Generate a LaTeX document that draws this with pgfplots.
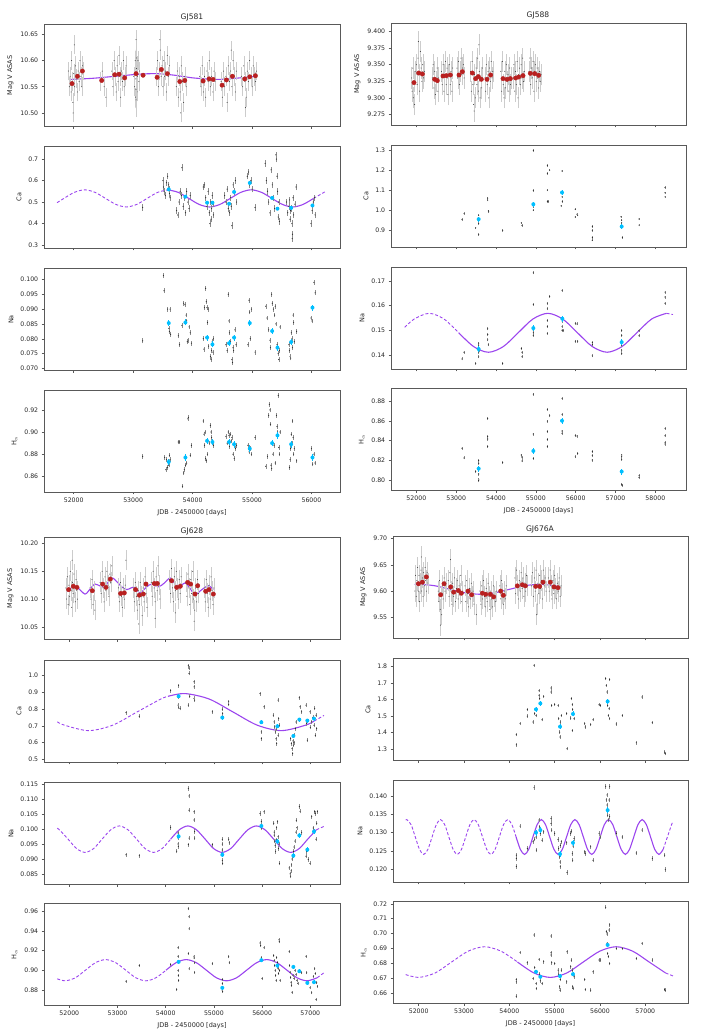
\documentclass[border=0pt]{standalone}
\usepackage{fontspec}
\setmainfont{DejaVu Sans}
\usepackage{pgfplots}
\pgfplotsset{compat=1.18}
\definecolor{fitPurple}{HTML}{9B45EE}
\definecolor{binCyan}{HTML}{00BFFF}
\definecolor{binRed}{HTML}{B82020}

% observation: error bar + small dark dot; mark size = half error bar length
\pgfdeclareplotmark{ebarL}{%
  \pgfsetstrokecolor{black!20}\pgfsetlinewidth{0.4pt}%
  \pgfpathmoveto{\pgfqpoint{0pt}{-\pgfplotmarksize}}%
  \pgfpathlineto{\pgfqpoint{0pt}{\pgfplotmarksize}}%
  \pgfusepathqstroke
  \pgfsetfillcolor{black!80}%
  \pgfpathcircle{\pgfpointorigin}{0.5pt}%
  \pgfusepathqfill}
\pgfdeclareplotmark{ebarD}{%
  \pgfsetstrokecolor{black!45}\pgfsetlinewidth{0.4pt}%
  \pgfpathmoveto{\pgfqpoint{0pt}{-\pgfplotmarksize}}%
  \pgfpathlineto{\pgfqpoint{0pt}{\pgfplotmarksize}}%
  \pgfusepathqstroke
  \pgfsetfillcolor{black!85}%
  \pgfpathcircle{\pgfpointorigin}{0.6pt}%
  \pgfusepathqfill}
% binned mean: cyan bar + dot
\pgfdeclareplotmark{cbar}{%
  \pgfsetstrokecolor{binCyan}\pgfsetlinewidth{0.7pt}%
  \pgfpathmoveto{\pgfqpoint{0pt}{-\pgfplotmarksize}}%
  \pgfpathlineto{\pgfqpoint{0pt}{\pgfplotmarksize}}%
  \pgfusepathqstroke
  \pgfsetfillcolor{binCyan}%
  \pgfpathcircle{\pgfpointorigin}{2pt}%
  \pgfusepathqfill}

\pgfplotsset{
  panel/.style={scale only axis, anchor=north west, height=102pt,
    axis line style={black!65, line width=0.5pt},
    tick align=outside, tick pos=left, major tick length=2.3pt,
    tick style={black!65, line width=0.5pt},
    tick label style={font=\fontsize{6.2}{7}\selectfont, text=black!85},
    label style={font=\fontsize{6.5}{8}\selectfont, text=black!85},
    /pgf/number format/assume math mode=true,
    scaled ticks=false, clip=true,
    x tick label style={/pgf/number format/1000 sep={}}},
  colA/.style={xmin=51500, xmax=56480, width=296pt, xtick={52000,53000,...,56000}},
  colB/.style={xmin=51364, xmax=58770, width=295pt, xtick={52000,53000,...,58000}},
  colC/.style={xmin=51475, xmax=57616, width=296pt, xtick={52000,53000,...,57000}},
  colD/.style={xmin=51433, xmax=57942, width=295pt, xtick={52000,53000,...,57000}},
  nox/.style={xticklabels={}},
  botx/.style={xlabel={JDB - 2450000 [days]}},
  yprec/.style={yticklabel style={/pgf/number format/.cd, fixed, fixed zerofill, precision=#1}},
  obsL/.style={only marks, mark=ebarL, mark size=#1},
  obs/.style={only marks, mark=ebarD, mark size=#1},
  bin/.style={only marks, mark=cbar, mark size=#1},
  mag/.style={only marks, mark=*, mark size=2.2pt, color=binRed},
  fitS/.style={smooth, no marks, color=fitPurple, line width=1.1pt},
  fitD/.style={smooth, no marks, color=fitPurple, line width=0.9pt, dash pattern=on 3pt off 2pt},
}

\begin{document}
\begin{tikzpicture}
\path (0,0) rectangle (706pt,-1035pt);
\node[font=\fontsize{7.6}{9}\selectfont, text=black!85] at (192pt,-17pt) {GJ581};
\node[font=\fontsize{7.6}{9}\selectfont, text=black!85] at (538pt,-15pt) {GJ588};
\node[font=\fontsize{7.6}{9}\selectfont, text=black!85] at (192pt,-531pt) {GJ628};
\node[font=\fontsize{7.6}{9}\selectfont, text=black!85] at (540pt,-529pt) {GJ676A};

%% ---------------- GJ581 ----------------
\begin{axis}[panel, colA, nox, at={(44pt,-24.5pt)}, ymin=10.474, ymax=10.669,
  ytick={10.50,10.55,10.60,10.65}, yprec=2, ylabel={Mag V ASAS}]
\addplot[obsL=9.4pt] coordinates {
(51910,10.58)(51925,10.55)(51940,10.57)(51955,10.54)(51965,10.60)(51975,10.56)(51985,10.52)(52000,10.575)(52015,10.55)(52030,10.59)(52045,10.565)(52060,10.54)(52075,10.58)(52090,10.56)(52105,10.60)(52120,10.57)(52135,10.55)(52150,10.59)(52160,10.58)(51990,10.50)(52010,10.63)
(52450,10.56)(52480,10.58)(52510,10.55)(52540,10.53)
(52640,10.58)(52660,10.55)(52680,10.60)(52700,10.57)(52715,10.54)(52730,10.59)(52745,10.56)(52760,10.61)(52775,10.57)(52790,10.53)(52805,10.58)(52820,10.56)(52835,10.60)(52850,10.55)(52865,10.57)(52880,10.59)
(53010,10.57)(53025,10.55)(53035,10.60)(53040,10.53)(53045,10.58)(53050,10.51)(53052,10.62)(53055,10.56)(53060,10.59)(53065,10.54)(53070,10.57)(53080,10.60)(53095,10.56)(53110,10.58)(53048,10.64)(53050,10.575)(53045,10.565)(53058,10.585)(53047,10.545)(53053,10.605)(53049,10.525)
(53390,10.57)(53410,10.60)(53425,10.55)(53440,10.58)(53455,10.62)(53470,10.57)(53485,10.59)(53500,10.55)(53515,10.60)(53530,10.57)(53545,10.58)(53560,10.54)(53575,10.61)(53590,10.57)(53610,10.59)(53450,10.64)
(53725,10.55)(53745,10.58)(53760,10.53)(53775,10.57)(53790,10.54)(53810,10.59)(53830,10.56)(53850,10.52)(53870,10.57)(53890,10.55)(53800,10.50)
(54120,10.57)(54140,10.55)(54160,10.59)(54180,10.54)(54200,10.57)(54220,10.53)(54240,10.58)(54260,10.56)(54280,10.60)(54300,10.55)(54320,10.57)(54340,10.54)(54360,10.58)(54375,10.56)
(54480,10.56)(54500,10.53)(54520,10.58)(54540,10.55)(54560,10.57)(54580,10.52)(54600,10.59)(54620,10.56)(54640,10.58)(54660,10.55)(54680,10.60)(54700,10.57)(54720,10.54)(54735,10.58)(54650,10.62)
(54820,10.57)(54840,10.55)(54860,10.59)(54880,10.56)(54900,10.53)(54920,10.58)(54940,10.56)(54960,10.60)(54980,10.57)(55000,10.55)(55020,10.59)(55040,10.57)(55060,10.56)(55075,10.58)(54890,10.51)
};
\addplot[fitS] coordinates {(51920,10.564)(52300,10.566)(52700,10.570)(53100,10.574)(53400,10.575)(53700,10.572)(54000,10.567)(54400,10.564)(54700,10.566)(55075,10.570)};
\addplot[mag] coordinates {
(51972,10.556)(52062,10.570)(52146,10.580)(52471,10.562)(52690,10.573)(52763,10.574)(52858,10.567)(53049,10.575)(53167,10.572)(53403,10.568)(53475,10.583)(53576,10.575)(53784,10.560)(53868,10.562)(54177,10.561)(54278,10.565)(54345,10.564)(54496,10.553)(54569,10.563)(54670,10.570)(54878,10.565)(54962,10.569)(55057,10.571)};
\end{axis}

\begin{axis}[panel, colA, nox, at={(44pt,-146pt)}, ymin=0.286, ymax=0.761,
  ytick={0.3,0.4,0.5,0.6,0.7}, yprec=1, ylabel={Ca}]
\addplot[obs=3.2pt] coordinates {
(53160,0.475)
(53500,0.60)(53510,0.57)(53520,0.55)(53540,0.53)(53560,0.59)(53580,0.62)(53600,0.56)(53610,0.54)(53620,0.52)(53595,0.58)
(53730,0.46)(53750,0.44)(53770,0.50)(53790,0.55)(53810,0.53)(53820,0.66)(53840,0.48)(53860,0.52)(53880,0.45)(53900,0.55)(53920,0.50)(53940,0.47)(53960,0.53)
(54180,0.57)(54200,0.58)(54220,0.52)(54240,0.48)(54260,0.55)(54280,0.45)(54300,0.50)(54310,0.42)(54320,0.47)(54330,0.53)(54340,0.49)(54350,0.44)(54290,0.40)
(54540,0.53)(54560,0.50)(54580,0.56)(54600,0.47)(54620,0.45)(54640,0.52)(54660,0.39)(54680,0.58)(54700,0.55)(54720,0.60)(54740,0.50)(54650,0.48)
(54920,0.62)(54940,0.64)(54960,0.58)(54980,0.60)(55000,0.56)(55050,0.475)
(55220,0.68)(55240,0.60)(55260,0.55)(55280,0.50)(55300,0.45)(55320,0.65)(55340,0.58)(55360,0.52)(55380,0.47)(55400,0.72)(55410,0.70)(55420,0.62)(55430,0.55)(55440,0.43)(55450,0.50)(55460,0.41)
(55580,0.50)(55600,0.45)(55620,0.48)(55640,0.42)(55660,0.47)(55670,0.40)(55680,0.35)(55690,0.52)(55700,0.44)(55720,0.49)(55740,0.57)(55650,0.46)(55630,0.51)(55675,0.33)
(55990,0.40)(56010,0.46)(56030,0.50)(56050,0.52)(56060,0.44)
};
\addplot[fitD] coordinates {(51720,0.497)(51835,0.517)(52010,0.545)(52185,0.557)(52360,0.545)(52535,0.517)(52710,0.489)(52885,0.477)(53060,0.489)(53235,0.517)(53410,0.545)(53585,0.557)};
\addplot[fitS] coordinates {(53585,0.557)(53760,0.545)(53935,0.517)(54110,0.489)(54285,0.477)(54460,0.489)(54635,0.517)(54810,0.545)(54985,0.557)(55160,0.545)(55335,0.517)(55510,0.489)(55685,0.477)(55860,0.489)(56035,0.517)};
\addplot[fitD] coordinates {(56035,0.517)(56210,0.545)(56241,0.549)};
\addplot[bin=1.7pt] coordinates {(53599,0.559)(53879,0.525)(54244,0.497)(54334,0.497)(54614,0.492)(54698,0.547)(54962,0.589)(55338,0.519)(55428,0.469)(55658,0.473)(56017,0.484)};
\end{axis}

\begin{axis}[panel, colA, nox, at={(44pt,-268.5pt)}, ymin=0.0693, ymax=0.1037,
  ytick={0.070,0.075,...,0.1005}, yprec=3, ylabel={Na}]
\addplot[obs=2.4pt] coordinates {
(53160,0.0793)
(53510,0.1013)(53520,0.0962)(53580,0.0900)(53600,0.0835)(53610,0.0825)(53620,0.0900)(53630,0.0815)
(53760,0.0810)(53780,0.0780)(53820,0.0845)(53850,0.0920)(53870,0.0915)(53890,0.0880)(53900,0.0860)(53920,0.0795)(53940,0.0840)(53960,0.0820)(53980,0.0785)(53910,0.0790)
(54180,0.0800)(54190,0.0765)(54200,0.0905)(54220,0.0970)(54230,0.0925)(54240,0.0905)(54250,0.0855)(54270,0.0775)(54300,0.0740)(54310,0.0730)(54320,0.0760)(54330,0.0790)(54340,0.0755)(54350,0.0800)(54260,0.0900)
(54560,0.0780)(54580,0.0760)(54600,0.0950)(54610,0.0860)(54620,0.0820)(54640,0.0790)(54660,0.0730)(54670,0.0720)(54690,0.0760)(54700,0.0800)(54710,0.0830)(54730,0.0780)(54680,0.0770)
(54930,0.0780)(54950,0.0930)(54960,0.0890)(54970,0.0800)(54990,0.0900)(55050,0.0755)
(55230,0.0910)(55250,0.0870)(55280,0.0830)(55300,0.0795)(55310,0.0770)(55330,0.0950)(55340,0.0920)(55360,0.0900)(55380,0.0880)(55400,0.0850)(55420,0.0780)(55440,0.0750)(55450,0.0730)(55460,0.0760)(55470,0.0840)(55390,0.0910)
(55620,0.0780)(55630,0.0760)(55640,0.0740)(55660,0.0820)(55670,0.0800)(55680,0.0770)(55690,0.0880)(55700,0.0855)(55710,0.0790)(55750,0.0825)(55650,0.0735)
(55990,0.0870)(56010,0.0860)(56040,0.0990)(56060,0.0955)
};
\addplot[bin=3pt] coordinates {(53599,0.0853)(53879,0.0855)(54244,0.0804)(54334,0.0781)(54614,0.0785)(54698,0.0804)(54962,0.0853)(55338,0.0826)(55428,0.0770)(55658,0.0789)(56017,0.0905)};
\end{axis}

\begin{axis}[panel, colA, botx, at={(44pt,-390pt)}, ymin=0.8458, ymax=0.938,
  ytick={0.86,0.88,0.90,0.92}, yprec=2, ylabel={H$_\alpha$}]
\addplot[obs=2.2pt] coordinates {
(53160,0.878)
(53530,0.877)(53560,0.875)(53580,0.868)(53600,0.870)(53620,0.875)(53550,0.866)(53610,0.879)
(53760,0.891)(53780,0.891)(53830,0.851)(53860,0.866)(53880,0.870)(53900,0.872)(53920,0.912)(53930,0.913)(53960,0.879)(53980,0.888)(53850,0.863)
(54180,0.910)(54190,0.898)(54200,0.888)(54220,0.876)(54230,0.874)(54250,0.880)(54280,0.890)(54300,0.906)(54310,0.900)(54320,0.895)(54340,0.890)(54350,0.888)(54210,0.900)
(54560,0.896)(54580,0.890)(54600,0.900)(54620,0.887)(54640,0.898)(54660,0.895)(54680,0.880)(54700,0.876)(54720,0.885)(54740,0.888)(54650,0.892)(54610,0.897)
(54930,0.888)(54950,0.882)(54970,0.885)(54990,0.880)(55050,0.895)
(55230,0.869)(55260,0.878)(55280,0.915)(55290,0.925)(55300,0.920)(55310,0.907)(55320,0.870)(55330,0.867)(55350,0.880)(55370,0.888)(55390,0.872)(55410,0.915)(55420,0.905)(55430,0.900)(55440,0.933)(55450,0.886)(55460,0.880)(55470,0.900)
(55630,0.868)(55640,0.875)(55650,0.885)(55660,0.898)(55670,0.890)(55680,0.910)(55690,0.895)(55700,0.880)(55710,0.885)(55750,0.874)
(56000,0.885)(56020,0.871)(56040,0.880)(56060,0.872)
};
\addplot[bin=3.3pt] coordinates {(53599,0.873)(53879,0.877)(54244,0.892)(54334,0.891)(54614,0.891)(54698,0.889)(54962,0.885)(55338,0.890)(55428,0.897)(55658,0.889)(56017,0.877)};
\end{axis}

%% ---------------- GJ588 ----------------
\begin{axis}[panel, colB, nox, at={(391pt,-23pt)}, ymin=9.259, ymax=9.413,
  ytick={9.275,9.300,...,9.401}, yprec=3, ylabel={Mag V ASAS}]
\addplot[obsL=10.6pt] coordinates {
(51880,9.33)(51895,9.31)(51910,9.345)(51925,9.30)(51940,9.325)(51955,9.29)(51970,9.34)(52000,9.35)(52020,9.32)(52040,9.36)(52060,9.335)(52080,9.31)(52100,9.37)(52120,9.345)(52140,9.325)(52160,9.35)(52180,9.33)(52200,9.34)(52050,9.385)
(52400,9.33)(52420,9.35)(52440,9.315)(52460,9.34)(52480,9.305)(52500,9.325)(52520,9.345)(52540,9.31)(52560,9.33)
(52630,9.34)(52650,9.32)(52670,9.35)(52690,9.31)(52710,9.335)(52730,9.355)(52750,9.32)(52770,9.345)(52790,9.305)(52810,9.335)(52830,9.35)(52850,9.32)(52870,9.34)(52890,9.31)(52910,9.345)
(53020,9.345)(53040,9.33)(53060,9.355)(53080,9.32)(53100,9.34)(53120,9.36)(53140,9.335)(53160,9.345)(53180,9.35)(53200,9.33)
(53360,9.34)(53380,9.31)(53400,9.355)(53420,9.32)(53440,9.29)(53460,9.335)(53480,9.30)(53500,9.345)(53520,9.32)(53540,9.36)(53560,9.31)(53580,9.34)(53600,9.30)(53620,9.33)(53640,9.315)(53660,9.345)(53450,9.28)(53570,9.38)
(53720,9.33)(53740,9.31)(53760,9.35)(53780,9.32)(53800,9.34)(53820,9.30)(53840,9.345)(53860,9.325)(53880,9.355)(53900,9.33)(53920,9.34)
(54120,9.34)(54140,9.31)(54160,9.355)(54180,9.32)(54200,9.30)(54220,9.34)(54240,9.315)(54260,9.35)(54280,9.325)(54300,9.335)(54320,9.31)(54340,9.345)(54360,9.32)(54380,9.33)
(54430,9.33)(54450,9.35)(54470,9.31)(54490,9.34)(54510,9.32)(54530,9.355)(54550,9.30)(54570,9.335)(54590,9.345)(54610,9.32)(54630,9.35)(54650,9.33)(54670,9.36)(54690,9.325)(54710,9.34)
(54830,9.34)(54850,9.36)(54870,9.32)(54890,9.345)(54910,9.33)(54930,9.355)(54950,9.31)(54970,9.34)(54990,9.35)(55010,9.325)(55030,9.345)(55050,9.33)(55070,9.315)(55090,9.34)(55110,9.325)(55130,9.335)
};
\addplot[mag] coordinates {
(51941,9.323)(52059,9.3375)(52151,9.336)(52460,9.328)(52527,9.326)(52669,9.333)(52753,9.3335)(52854,9.3345)(53071,9.3345)(53155,9.3395)(53406,9.3375)(53490,9.329)(53557,9.332)(53632,9.328)(53774,9.328)(53866,9.3345)(54176,9.329)(54276,9.328)(54360,9.329)(54494,9.330)(54569,9.3315)(54678,9.3335)(54862,9.337)(54971,9.3365)(55071,9.334)};
\end{axis}

\begin{axis}[panel, colB, nox, at={(391pt,-145pt)}, ymin=0.814, ymax=1.327,
  ytick={0.9,1.0,1.1,1.2,1.3}, yprec=1, ylabel={Ca}]
\addplot[obs=1.2pt] coordinates {
(53146,0.952)(53197,0.982)(53490,0.910)(53565,0.876)(53565,0.974)(53565,0.932)(53565,0.945)(53791,1.060)(53791,1.050)(53808,0.996)(53816,0.991)(54167,0.898)(54636,0.935)(54652,0.922)
(54937,1.300)(54937,1.098)(54937,1.016)(54937,0.999)(55289,1.184)(55289,1.223)(55289,1.100)(55289,1.043)(55306,1.043)(55347,1.201)(55657,1.196)(55657,1.066)(55632,1.021)(55665,1.043)
(55991,1.004)(55991,0.965)(56033,0.979)(56050,0.974)(56418,0.918)(56418,0.898)(56418,0.861)(56418,0.848)(57155,0.949)(57155,0.935)(57155,0.918)(57172,0.861)(57138,0.966)(57590,0.955)(57590,0.924)(58243,1.113)(58243,1.087)(58243,1.066)
};
\addplot[bin=2.4pt] coordinates {(53565,0.954)(54937,1.029)(55657,1.088)(57155,0.917)};
\end{axis}

\begin{axis}[panel, colB, nox, at={(391pt,-267pt)}, ymin=0.1343, ymax=0.1757,
  ytick={0.14,0.15,0.16,0.17}, yprec=2, ylabel={Na}]
\addplot[obs=1.5pt] coordinates {
(53146,0.1384)(53197,0.1411)(53490,0.1366)(53565,0.1448)(53565,0.1440)(53565,0.1430)(53565,0.1412)(53565,0.1392)(53580,0.1420)(53791,0.1506)(53791,0.1483)(53791,0.1461)(53808,0.1441)(54167,0.1366)(54636,0.1427)(54652,0.1411)(54652,0.1393)
(54937,0.1733)(54937,0.1605)(54937,0.1499)(54937,0.1490)(54937,0.1480)(55289,0.1610)(55289,0.1587)(55289,0.1540)(55289,0.1515)(55289,0.1488)(55347,0.1638)(55657,0.1662)(55657,0.1515)(55657,0.1500)(55665,0.1536)(55682,0.1499)
(55991,0.1529)(55991,0.1456)(56033,0.1526)(56050,0.1456)(56418,0.1450)(56418,0.1442)(56418,0.1396)(57155,0.1499)(57155,0.1480)(57155,0.1460)(57155,0.1440)(57155,0.1420)(57155,0.1405)(57590,0.1499)(57590,0.1478)(58243,0.1655)(58243,0.1635)(58243,0.1610)
};
\addplot[fitD] coordinates {(51707,0.1512)(51948,0.1546)(52320,0.1569)(52693,0.1546)(53065,0.1490)};
\addplot[fitS] coordinates {(53065,0.1490)(53438,0.1434)(53810,0.1411)(54183,0.1434)(54555,0.1490)(54928,0.1546)(55300,0.1569)(55673,0.1546)(56045,0.1490)(56418,0.1434)(56790,0.1411)(57163,0.1434)(57535,0.1490)(57908,0.1546)(58280,0.1569)};
\addplot[fitD] coordinates {(58280,0.1569)(58443,0.1564)};
\addplot[bin=3pt] coordinates {(53565,0.1424)(54937,0.1509)(55665,0.1547)(57155,0.1452)};
\end{axis}

\begin{axis}[panel, colB, botx, at={(391pt,-388.5pt)}, ymin=0.7892, ymax=0.8932,
  ytick={0.80,0.82,...,0.881}, yprec=2, ylabel={H$_\alpha$}]
\addplot[obs=1.5pt] coordinates {
(53146,0.8322)(53197,0.8224)(53490,0.8085)(53565,0.8197)(53565,0.8170)(53565,0.8060)(53565,0.8007)(53565,0.7993)(53791,0.8627)(53791,0.8441)(53791,0.8417)(53791,0.8339)(54167,0.8176)(54636,0.8254)(54652,0.8227)(54652,0.8193)
(54937,0.8875)(54937,0.8468)(54937,0.8220)(55289,0.8719)(55289,0.8600)(55289,0.8492)(55289,0.8414)(55289,0.8339)(55347,0.8654)(55657,0.8831)(55657,0.8668)(55657,0.8498)(55657,0.8475)
(55991,0.8451)(55991,0.8234)(56033,0.8447)(56050,0.8271)(56418,0.8288)(56418,0.8247)(56418,0.8203)(57155,0.8254)(57155,0.8237)(57155,0.8210)(57155,0.7956)(57172,0.7946)(57590,0.8044)(57590,0.8024)(58243,0.8525)(58243,0.8451)(58243,0.8383)(58243,0.8366)
};
\addplot[bin=3pt] coordinates {(53565,0.8115)(54937,0.8295)(55657,0.8603)(57155,0.8085)};
\end{axis}

%% ---------------- GJ628 ----------------
\begin{axis}[panel, colC, nox, at={(44pt,-537.5pt)}, ymin=10.027, ymax=10.211,
  ytick={10.05,10.10,10.15,10.20}, yprec=2, ylabel={Mag V ASAS}]
\addplot[obsL=10pt] coordinates {
(51930,10.12)(51945,10.10)(51960,10.14)(51975,10.09)(51990,10.125)(52005,10.105)(52020,10.15)(52035,10.115)(52050,10.085)(52065,10.13)(52080,10.11)(52095,10.145)(52110,10.12)(52125,10.095)(52140,10.135)(52155,10.115)(52170,10.10)(52060,10.17)
(52430,10.12)(52450,10.10)(52470,10.135)(52490,10.09)(52510,10.115)(52530,10.08)
(52640,10.13)(52660,10.11)(52680,10.15)(52700,10.12)(52720,10.095)(52740,10.14)(52760,10.115)(52780,10.15)(52800,10.125)(52820,10.105)(52840,10.145)(52860,10.13)(52880,10.16)
(53020,10.12)(53040,10.095)(53060,10.13)(53080,10.105)(53100,10.085)(53120,10.12)(53140,10.10)(53160,10.125)(53175,10.17)
(53330,10.12)(53350,10.095)(53370,10.13)(53390,10.105)(53410,10.08)(53430,10.115)(53450,10.09)(53470,10.13)(53490,10.105)(53510,10.07)(53530,10.12)(53550,10.095)(53570,10.14)(53590,10.11)(53610,10.085)(53440,10.055)
(53700,10.13)(53720,10.105)(53740,10.15)(53760,10.12)(53780,10.095)(53800,10.14)(53820,10.115)(53840,10.16)(53860,10.125)(53880,10.10)(53780,10.065)
(54080,10.135)(54100,10.11)(54120,10.155)(54140,10.12)(54160,10.095)(54180,10.14)(54200,10.115)(54220,10.15)(54240,10.12)(54260,10.10)(54280,10.135)(54300,10.11)(54320,10.14)(54200,10.075)
(54420,10.13)(54440,10.105)(54460,10.145)(54480,10.12)(54500,10.09)(54520,10.135)(54540,10.11)(54560,10.15)(54580,10.10)(54600,10.08)(54620,10.12)(54640,10.095)(54660,10.135)(54680,10.11)(54590,10.06)
(54800,10.12)(54820,10.095)(54840,10.135)(54860,10.11)(54880,10.085)(54900,10.125)(54920,10.10)(54940,10.14)(54960,10.115)(54980,10.09)(55000,10.12)
};
\addplot[fitS] coordinates {(51946,10.114)(52083,10.122)(52180,10.120)(52326,10.109)(52430,10.118)(52533,10.127)(52650,10.123)(52741,10.123)(52879,10.138)(52990,10.131)(53087,10.122)(53191,10.117)(53280,10.120)(53363,10.121)(53467,10.111)(53606,10.122)(53710,10.127)(53846,10.122)(53960,10.128)(54089,10.138)(54180,10.129)(54261,10.121)(54400,10.129)(54500,10.120)(54608,10.108)(54750,10.117)(54884,10.124)(54988,10.117)};
\addplot[mag] coordinates {
(51986,10.117)(52083,10.123)(52159,10.121)(52477,10.115)(52692,10.127)(52761,10.121)(52851,10.136)(53065,10.110)(53141,10.111)(53376,10.117)(53452,10.107)(53535,10.109)(53591,10.127)(53764,10.128)(53826,10.128)(54123,10.133)(54227,10.121)(54303,10.123)(54455,10.130)(54517,10.127)(54607,10.109)(54663,10.124)(54829,10.114)(54898,10.117)(54988,10.109)};
\end{axis}

\begin{axis}[panel, colC, nox, at={(44pt,-660pt)}, ymin=0.484, ymax=1.092,
  ytick={0.5,0.6,...,1.01}, yprec=1, ylabel={Ca}]
\addplot[obs=2pt] coordinates {
(53176,0.779)(53452,0.757)(54102,0.910)(54268,0.940)(54255,0.873)(54255,0.823)(54268,0.811)(54296,0.803)
(54469,1.058)(54483,1.042)(54483,1.012)(54469,0.823)(54497,0.876)(54587,0.962)(54587,0.932)(54587,0.863)(54600,0.853)(54967,0.783)(55174,0.799)(55181,0.773)(55306,0.843)(55306,0.827)
(55956,0.892)(55984,0.663)(55984,0.623)(56039,0.813)
(56233,0.763)(56247,0.723)(56261,0.693)(56275,0.663)(56288,0.623)(56302,0.594)(56330,0.853)(56344,0.743)(56358,0.703)(56330,0.643)(56290,0.680)(56310,0.700)
(56592,0.623)(56606,0.594)(56620,0.564)(56634,0.534)(56648,0.584)(56675,0.643)(56689,0.683)(56703,0.723)(56640,0.610)(56660,0.600)
(56772,0.867)(56786,0.813)(56820,0.783)(56910,0.823)(56924,0.713)(56938,0.614)(56993,0.783)(57028,0.723)(57076,0.703)(57090,0.803)(57104,0.643)(57118,0.763)(57132,0.683)(57050,0.750)(57000,0.690)
};
\addplot[fitD] coordinates {(51751,0.7236)(51900,0.7034)(52400,0.671)(52900,0.7034)(53400,0.7815)(53900,0.8596)(54050,0.8757)};
\addplot[fitS] coordinates {(54050,0.8757)(54400,0.892)(54900,0.8596)(55400,0.7815)(55900,0.7034)(56400,0.671)(56900,0.7034)(57080,0.7282)};
\addplot[fitD] coordinates {(57080,0.7282)(57284,0.7615)};
\addplot[bin=2pt] coordinates {(54268,0.876)(55174,0.749)(55984,0.721)(56316,0.697)(56648,0.639)(56772,0.737)(56938,0.731)(57076,0.743)};
\end{axis}

\begin{axis}[panel, colC, nox, at={(44pt,-782.5pt)}, ymin=0.0814, ymax=0.1157,
  ytick={0.085,0.090,...,0.1151}, yprec=3, ylabel={Na}]
\addplot[obs=2.1pt] coordinates {
(53176,0.0914)(53452,0.0911)(54102,0.1006)(54227,0.0926)(54255,0.0987)(54255,0.0970)(54255,0.0950)(54262,0.0942)
(54469,0.1137)(54483,0.1112)(54483,0.1064)(54469,0.0948)(54483,0.0970)(54587,0.1059)(54587,0.1031)(54600,0.0992)(54600,0.0970)(54967,0.0948)
(55174,0.0966)(55174,0.0950)(55174,0.0930)(55174,0.0895)(55181,0.0885)(55306,0.0966)(55320,0.0954)
(55956,0.1053)(55984,0.1026)(55984,0.1004)(56039,0.1059)
(56240,0.1020)(56250,0.0990)(56260,0.0960)(56270,0.0945)(56280,0.0925)(56300,0.1005)(56320,0.1025)(56330,0.0975)(56340,0.0935)(56350,0.0950)(56360,0.0885)(56250,0.0980)(56290,0.0965)
(56560,0.0870)(56580,0.0850)(56590,0.0842)(56600,0.0860)(56610,0.0880)(56620,0.0900)(56640,0.0915)(56660,0.0940)(56680,0.0960)(56700,0.0990)(56710,0.1030)(56720,0.1005)(56650,0.0925)
(56772,0.1076)(56786,0.1060)(56820,0.0989)(56910,0.0909)(56924,0.0925)(56958,0.0898)(56993,0.0885)(57028,0.1042)(57062,0.1004)(57090,0.1059)(57104,0.1053)(57118,0.0966)(57132,0.1020)(57146,0.1059)
};
\addplot[fitD] coordinates {(51751,0.1003)(51794,0.0998)(51972,0.0967)(52149,0.0935)(52327,0.0922)(52505,0.0935)(52683,0.0967)(52860,0.0998)(53038,0.1011)(53216,0.0998)(53394,0.0967)(53571,0.0935)(53749,0.0922)(53927,0.0935)(54105,0.0967)};
\addplot[fitS] coordinates {(54105,0.0967)(54282,0.0998)(54460,0.1011)(54638,0.0998)(54816,0.0967)(54993,0.0935)(55171,0.0922)(55349,0.0935)(55527,0.0967)(55704,0.0998)(55882,0.1011)(56060,0.0998)(56238,0.0967)(56415,0.0935)(56593,0.0922)(56771,0.0935)(56949,0.0967)(57126,0.0998)};
\addplot[fitD] coordinates {(57126,0.0998)(57304,0.1011)};
\addplot[bin=2.4pt] coordinates {(54268,0.0976)(55174,0.0914)(55984,0.1011)(56316,0.0959)(56648,0.0911)(56772,0.0979)(56938,0.0931)(57076,0.0992)};
\end{axis}

\begin{axis}[panel, colC, botx, at={(44pt,-903.5pt)}, ymin=0.8645, ymax=0.9678,
  ytick={0.88,0.90,...,0.961}, yprec=2, ylabel={H$_\alpha$}]
\addplot[obs=1.5pt] coordinates {
(53176,0.8891)(53452,0.9050)(54102,0.9060)(54255,0.9229)(54255,0.9144)(54255,0.9000)(54262,0.8950)(54268,0.8900)(54227,0.8807)
(54469,0.9624)(54483,0.9543)(54483,0.9421)(54469,0.9171)(54483,0.9016)(54587,0.9144)(54587,0.9127)(54600,0.9077)(54600,0.8982)(54967,0.9067)
(55174,0.8908)(55174,0.8867)(55174,0.8800)(55181,0.8785)(55306,0.9138)(55320,0.9077)
(55956,0.9279)(55970,0.9252)(55984,0.9127)(55998,0.8918)(56039,0.9229)
(56240,0.9150)(56250,0.9100)(56260,0.9050)(56270,0.9000)(56280,0.8950)(56290,0.8900)(56300,0.9130)(56320,0.9080)(56330,0.9020)(56340,0.8970)(56350,0.9310)(56355,0.9290)(56360,0.9000)(56370,0.8900)
(56560,0.9190)(56570,0.9050)(56580,0.8980)(56590,0.8930)(56600,0.8880)(56610,0.8850)(56620,0.8780)(56640,0.8950)(56660,0.8920)(56680,0.9000)(56700,0.8960)(56720,0.8900)(56740,0.8870)
(56772,0.8992)(56820,0.8975)(56910,0.9144)(56924,0.8975)(56958,0.8874)(56993,0.8824)(57028,0.8773)(57062,0.8942)(57090,0.9016)(57104,0.8969)(57118,0.8706)(57132,0.8874)(57146,0.8841)
};
\addplot[fitD] coordinates {(51751,0.8915)(51917,0.8895)(52126,0.8926)(52335,0.9003)(52544,0.9079)(52753,0.9110)(52962,0.9079)(53171,0.9003)(53380,0.8926)(53589,0.8895)(53798,0.8926)(54007,0.9003)};
\addplot[fitS] coordinates {(54007,0.9003)(54216,0.9079)(54425,0.9110)(54634,0.9079)(54843,0.9003)(55052,0.8926)(55261,0.8895)(55470,0.8926)(55679,0.9003)(55888,0.9079)(56097,0.9110)(56306,0.9079)(56515,0.9003)(56724,0.8926)(56933,0.8895)(57142,0.8926)};
\addplot[fitD] coordinates {(57142,0.8926)(57304,0.8984)};
\addplot[bin=2pt] coordinates {(54268,0.9087)(55174,0.8824)(55984,0.9104)(56316,0.9050)(56648,0.9036)(56772,0.8992)(56938,0.8874)(57076,0.8881)};
\end{axis}

%% ---------------- GJ676A ----------------
\begin{axis}[panel, colD, nox, at={(393pt,-536pt)}, ymin=9.5106, ymax=9.705,
  ytick={9.55,9.60,9.65,9.70}, yprec=2, ylabel={Mag V ASAS}]
\addplot[obsL=10.5pt] coordinates {
(51915,9.60)(51930,9.63)(51945,9.59)(51960,9.62)(51975,9.645)(51990,9.60)(52005,9.63)(52020,9.58)(52035,9.615)(52050,9.64)(52065,9.60)(52080,9.625)(52095,9.59)(52110,9.635)(52125,9.61)(52140,9.645)(52155,9.62)(52170,9.60)(52185,9.635)(52200,9.615)(52060,9.665)
(52430,9.60)(52445,9.58)(52460,9.62)(52475,9.565)(52490,9.59)(52505,9.555)(52520,9.61)(52540,9.585)(52560,9.625)(52580,9.60)(52600,9.615)(52480,9.535)
(52650,9.62)(52670,9.59)(52690,9.635)(52710,9.60)(52730,9.575)(52750,9.615)(52770,9.59)(52790,9.625)(52810,9.58)(52830,9.605)(52850,9.62)(52870,9.585)(52890,9.61)(52910,9.595)(52930,9.63)(52950,9.58)(52970,9.60)(52700,9.66)
(53020,9.61)(53040,9.58)(53060,9.62)(53080,9.595)(53100,9.57)(53120,9.605)(53140,9.585)(53160,9.615)(53180,9.59)(53200,9.60)(53220,9.575)(53270,9.555)
(53350,9.60)(53370,9.575)(53390,9.61)(53410,9.585)(53430,9.62)(53450,9.59)(53470,9.57)(53490,9.605)(53510,9.58)(53530,9.615)(53550,9.59)(53570,9.565)(53590,9.60)(53610,9.585)(53630,9.57)(53650,9.61)(53670,9.59)(53690,9.58)(53710,9.60)
(53790,9.61)(53810,9.585)(53830,9.62)(53850,9.595)(53870,9.575)(53890,9.60)(53910,9.585)(53930,9.61)
(54120,9.625)(54140,9.595)(54160,9.64)(54180,9.61)(54200,9.585)(54220,9.62)(54240,9.60)(54260,9.635)(54280,9.605)(54300,9.625)(54320,9.59)(54340,9.615)(54360,9.60)(54380,9.63)(54400,9.61)
(54490,9.61)(54510,9.635)(54530,9.59)(54550,9.625)(54570,9.60)(54590,9.64)(54610,9.575)(54630,9.615)(54650,9.595)(54670,9.63)(54690,9.605)(54710,9.62)(54730,9.585)(54750,9.64)(54770,9.61)(54790,9.625)(54810,9.60)(54600,9.555)
(54860,9.625)(54880,9.60)(54900,9.64)(54920,9.61)(54940,9.585)(54960,9.62)(54980,9.595)(55000,9.63)(55020,9.605)(55040,9.585)(55060,9.615)(55080,9.60)(55100,9.625)(55120,9.59)(55140,9.61)
};
\addplot[fitS] coordinates {(51912,9.6127)(52023,9.613)(52354,9.6102)(52684,9.6035)(53015,9.5968)(53346,9.594)(53677,9.5968)(54008,9.6035)(54339,9.6102)(54669,9.613)(55000,9.6102)(55096,9.6085)};
\addplot[mag] coordinates {
(51993,9.614)(52081,9.617)(52169,9.627)(52485,9.593)(52559,9.614)(52706,9.608)(52772,9.598)(52875,9.601)(52941,9.596)(53088,9.600)(53169,9.593)(53404,9.596)(53478,9.594)(53581,9.594)(53654,9.589)(53809,9.600)(53868,9.592)(54176,9.610)(54287,9.612)(54353,9.610)(54581,9.609)(54669,9.609)(54743,9.617)(54904,9.617)(54985,9.608)(55074,9.6065)};
\end{axis}

\begin{axis}[panel, colD, nox, at={(393pt,-658.5pt)}, ymin=1.231, ymax=1.849,
  ytick={1.3,1.4,...,1.81}, yprec=1, ylabel={Ca}]
\addplot[obs=1.7pt] coordinates {
(54154,1.387)(54154,1.326)(54235,1.456)(54397,1.539)(54397,1.500)(54522,1.464)(54544,1.808)(54559,1.515)(54588,1.504)(54654,1.654)(54654,1.626)(54669,1.606)(54721,1.478)(54757,1.620)
(54919,1.670)(54919,1.646)(54934,1.565)(55000,1.571)(55074,1.565)(55088,1.484)(55110,1.403)(55118,1.373)(55125,1.464)(55147,1.504)(55272,1.302)(55265,1.515)(55353,1.488)(55368,1.606)(55390,1.569)(55397,1.541)(55426,1.484)(55390,1.413)
(55662,1.454)(55676,1.434)(55794,1.448)(55846,1.478)(55978,1.569)(56007,1.565)(56125,1.727)(56140,1.687)(56154,1.646)(56169,1.565)(56184,1.504)(56198,1.545)(56213,1.721)(56213,1.484)(56360,1.452)(56493,1.504)(56801,1.338)(56926,1.616)(57154,1.460)(57427,1.282)(57441,1.272)
};
\addplot[bin=2.5pt] coordinates {(54588,1.541)(54684,1.577)(55118,1.436)(55404,1.513)(56169,1.589)};
\end{axis}

\begin{axis}[panel, colD, nox, at={(393pt,-780pt)}, ymin=0.1164, ymax=0.1445,
  ytick={0.120,0.125,...,0.1401}, yprec=3, ylabel={Na}]
\addplot[obs=2.2pt] coordinates {
(54154,0.1238)(54154,0.1229)(54154,0.1207)(54235,0.1318)(54397,0.1256)(54522,0.1275)(54544,0.1424)(54559,0.1282)(54588,0.1288)(54596,0.1252)(54654,0.1335)(54669,0.1316)(54684,0.1298)(54721,0.1279)(54757,0.1302)
(54919,0.1339)(54919,0.1325)(54934,0.1307)(55000,0.1298)(55074,0.1281)(55088,0.1256)(55110,0.1233)(55118,0.1219)(55125,0.1206)(55125,0.1265)(55147,0.1275)(55272,0.1190)(55265,0.1272)(55353,0.1298)(55368,0.1304)(55390,0.1242)(55397,0.1224)(55404,0.1263)(55426,0.1284)
(55662,0.1247)(55676,0.1242)(55794,0.1261)(55846,0.1224)(55978,0.1298)(56007,0.1288)(56125,0.1427)(56140,0.1390)(56154,0.1376)(56169,0.1348)(56184,0.1335)(56198,0.1390)(56213,0.1427)(56213,0.1344)(56154,0.1404)(56360,0.1298)(56493,0.1288)(56801,0.1244)(56926,0.1307)(57154,0.1229)(57427,0.1238)(57441,0.1198)
};
\addplot[fitD] coordinates {(51713,0.1335)(51739,0.1336)(51832,0.1322)(51925,0.1288)(52017,0.1254)(52110,0.1240)(52203,0.1254)(52295,0.1288)(52388,0.1322)(52481,0.1336)(52574,0.1322)(52666,0.1288)(52759,0.1254)(52852,0.1240)(52944,0.1254)(53037,0.1288)(53130,0.1322)(53222,0.1336)(53315,0.1322)(53408,0.1288)(53501,0.1254)(53593,0.1240)(53686,0.1254)(53779,0.1288)(53871,0.1322)(53964,0.1336)(54057,0.1322)(54149,0.1288)};
\addplot[fitS] coordinates {(54149,0.1288)(54242,0.1254)(54335,0.1240)(54428,0.1254)(54520,0.1288)(54613,0.1322)(54706,0.1336)(54798,0.1322)(54891,0.1288)(54984,0.1254)(55076,0.1240)(55169,0.1254)(55262,0.1288)(55355,0.1322)(55447,0.1336)(55540,0.1322)(55633,0.1288)(55725,0.1254)(55818,0.1240)(55911,0.1254)(56003,0.1288)(56096,0.1322)(56189,0.1336)(56282,0.1322)(56374,0.1288)(56467,0.1254)(56560,0.1240)(56652,0.1254)(56745,0.1288)(56838,0.1322)(56930,0.1336)(57023,0.1322)(57116,0.1288)(57208,0.1254)(57301,0.1240)(57394,0.1254)};
\addplot[fitD] coordinates {(57394,0.1254)(57487,0.1288)(57579,0.1322)(57610,0.1330)};
\addplot[bin=2.9pt] coordinates {(54588,0.1300)(54684,0.1307)(55118,0.1241)(55404,0.1272)(56169,0.1362)};
\end{axis}

\begin{axis}[panel, colD, botx, at={(393pt,-901.5pt)}, ymin=0.6528, ymax=0.7216,
  ytick={0.66,0.67,...,0.721}, yprec=2, ylabel={H$_\alpha$}]
\addplot[obs=1.8pt] coordinates {
(54154,0.6577)(54154,0.6674)(54154,0.6690)(54235,0.6873)(54397,0.6803)(54522,0.6697)(54544,0.6990)(54559,0.6771)(54588,0.6663)(54596,0.6629)(54654,0.6826)(54669,0.6726)(54684,0.6681)(54721,0.6663)(54757,0.6810)
(54919,0.6983)(54919,0.6871)(54919,0.6855)(54934,0.6803)(55000,0.6798)(55074,0.6753)(55088,0.6726)(55110,0.6641)(55118,0.6618)(55125,0.6690)(55147,0.6753)(55272,0.6877)(55265,0.6674)(55353,0.6776)(55368,0.6821)(55390,0.6753)(55397,0.6641)(55404,0.6629)(55426,0.6708)
(55662,0.6690)(55676,0.6622)(55794,0.6618)(55846,0.6742)(55978,0.6821)(56007,0.6821)(56125,0.7177)(56140,0.7013)(56154,0.6997)(56169,0.6866)(56184,0.6844)(56198,0.7024)(56213,0.7058)(56213,0.6798)(56154,0.6934)(56360,0.6900)(56493,0.6900)(56801,0.6832)(56926,0.6934)(57154,0.6821)(57427,0.6622)(57441,0.6618)
};
\addplot[fitD] coordinates {(51713,0.6723)(52000,0.6704)(52363,0.6734)(52726,0.6808)(53090,0.6881)(53453,0.6911)(53816,0.6881)(54179,0.6808)};
\addplot[fitS] coordinates {(54179,0.6808)(54542,0.6734)(54905,0.6704)(55268,0.6734)(55631,0.6808)(55995,0.6881)(56358,0.6911)(56721,0.6881)(57084,0.6808)(57447,0.6734)};
\addplot[fitD] coordinates {(57447,0.6734)(57610,0.6714)};
\addplot[bin=2.2pt] coordinates {(54588,0.6742)(54684,0.6708)(55118,0.6713)(55404,0.6726)(56169,0.6923)};
\end{axis}
\end{tikzpicture}
\end{document}
